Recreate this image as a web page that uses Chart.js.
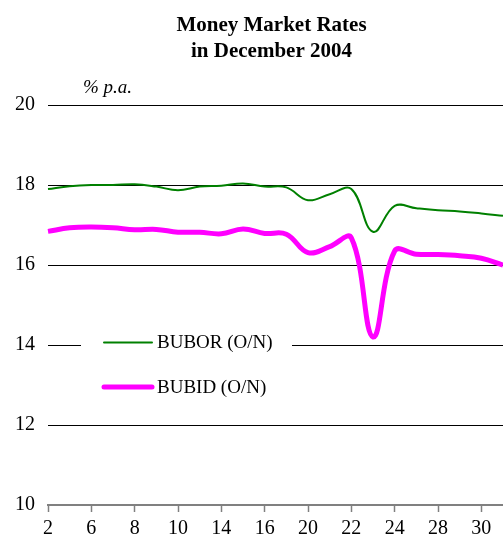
<!DOCTYPE html>
<html>
<head>
<meta charset="utf-8">
<script src="https://cdn.jsdelivr.net/npm/chart.js@4/dist/chart.umd.min.js"></script>
<style>
  html, body { margin: 0; padding: 0; background: #fff; }
  #wrap { width: 503px; height: 540px; position: relative; }
</style>
</head>
<body>
<div id="wrap"><canvas id="c" width="503" height="540"></canvas></div>
<script>
const titleLines = ['Money Market Rates', 'in December 2004'];
const unitLabel = '% p.a.';
const days = ['2','3','6','7','8','9','10','13','14','15','16','17','20','21','22','23','24','27','28','29','30','31'];
const shownDays = ['2','6','8','10','14','16','20','22','24','28','30'];
const bubor = [17.90, 17.97, 18.00, 18.00, 18.02, 17.96, 17.87, 17.96, 17.98, 18.04, 17.96, 17.94, 17.62, 17.77, 17.90, 16.83, 17.48, 17.42, 17.37, 17.34, 17.29, 17.23];
const bubid = [16.84, 16.93, 16.95, 16.93, 16.88, 16.89, 16.82, 16.82, 16.78, 16.90, 16.79, 16.77, 16.31, 16.46, 16.68, 14.20, 16.35, 16.27, 16.26, 16.23, 16.17, 16.00];
const seriesNames = ['BUBOR (O/N)', 'BUBID (O/N)'];
const seriesColors = ['#008000', '#ff00ff'];
const seriesWidths = [2, 5];

const FONT = "'Liberation Serif', 'Times New Roman', serif";

const decor = {
  id: 'decor',
  beforeDatasetsDraw(chart) {
    const ctx = chart.ctx;
    const a = chart.chartArea;
    const y = chart.scales.y;
    ctx.save();
    const lx = a.left + 33;
    const ly = y.getPixelForValue(14) - 18;
    ctx.fillStyle = '#fff';
    ctx.fillRect(lx, ly, 211, 72);
    ctx.font = '19px ' + FONT;
    ctx.textBaseline = 'middle';
    ctx.textAlign = 'left';
    const rows = [y.getPixelForValue(14) - 2.5, y.getPixelForValue(14) + 42];
    for (let i = 0; i < seriesNames.length; i++) {
      ctx.strokeStyle = seriesColors[i];
      ctx.lineWidth = seriesWidths[i];
      ctx.lineCap = 'round';
      ctx.beginPath();
      ctx.moveTo(a.left + 56, rows[i]);
      ctx.lineTo(a.left + 104, rows[i]);
      ctx.stroke();
      ctx.fillStyle = '#000';
      ctx.fillText(seriesNames[i], a.left + 109, rows[i] + 1);
    }
    ctx.restore();
  },
  afterDraw(chart) {
    const ctx = chart.ctx;
    const a = chart.chartArea;
    const y = chart.scales.y;
    ctx.save();
    ctx.fillStyle = '#000';
    ctx.textBaseline = 'alphabetic';
    ctx.textAlign = 'center';
    ctx.font = 'bold 21px ' + FONT;
    const cx = (a.left + a.right) / 2 - 4;
    ctx.fillText(titleLines[0], cx, 31);
    ctx.fillText(titleLines[1], cx, 57);
    ctx.textAlign = 'left';
    ctx.font = 'italic 19px ' + FONT;
    ctx.fillText(unitLabel, a.left + 35, y.getPixelForValue(20) - 12);
    ctx.restore();
  }
};

new Chart(document.getElementById('c'), {
  type: 'line',
  data: {
    labels: days,
    datasets: [
      { label: seriesNames[0], data: bubor, borderColor: seriesColors[0], borderWidth: seriesWidths[0], tension: 0.4, pointRadius: 0, fill: false },
      { label: seriesNames[1], data: bubid, borderColor: seriesColors[1], borderWidth: seriesWidths[1], tension: 0.4, pointRadius: 0, fill: false }
    ]
  },
  options: {
    responsive: false,
    animation: false,
    devicePixelRatio: 1,
    layout: { padding: { top: 105, left: 0, right: 0, bottom: 0 } },
    plugins: { legend: { display: false }, title: { display: false }, tooltip: { enabled: false } },
    scales: {
      x: {
        offset: false,
        grid: {
          drawOnChartArea: false,
          drawTicks: true,
          tickLength: 7,
          tickWidth: 1.5,
          tickColor: (c) => (c.tick && shownDays.includes(c.tick.label)) ? '#808080' : 'rgba(0,0,0,0)'
        },
        border: { display: true, color: '#808080', width: 2 },
        ticks: {
          autoSkip: false,
          maxRotation: 0,
          padding: 5,
          color: '#000',
          font: { family: FONT, size: 20 },
          callback: function(v, i) { const l = days[i]; return shownDays.includes(l) ? l : ''; }
        },
        afterFit(s) { s.height = 35; s.paddingLeft = 0; s.paddingRight = 0; }
      },
      y: {
        min: 10, max: 20,
        grid: {
          drawTicks: false,
          color: (c) => c.tick && c.tick.value === 10 ? 'rgba(0,0,0,0)' : '#000',
          lineWidth: 1
        },
        border: { display: false },
        ticks: {
          stepSize: 2,
          padding: 13,
          color: '#000',
          font: { family: FONT, size: 20 }
        },
        afterFit(s) { s.width = 48; s.paddingTop = 0; s.paddingBottom = 0; }
      }
    }
  },
  plugins: [decor]
});
</script>
</body>
</html>
